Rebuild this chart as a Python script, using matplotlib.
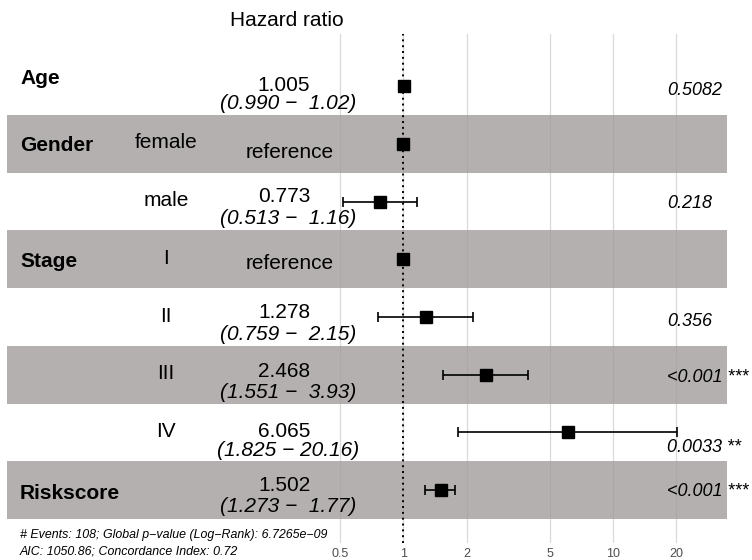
import matplotlib
matplotlib.use("Agg")
import matplotlib.pyplot as plt
import matplotlib.transforms as mtransforms
from matplotlib.ticker import NullLocator
import numpy as np

plt.rcParams['font.family'] = ['Liberation Sans', 'DejaVu Sans']

# cox model summary, one entry per row of the forest plot
var_names = ["Age", "Gender", "", "Stage", "", "", "", "Riskscore"]
levels = ["", "female", "male", "I", "II", "III", "IV", ""]
is_ref = [False, True, False, True, False, False, False, False]
hr = [1.005, 1.0, 0.773, 1.0, 1.278, 2.468, 6.065, 1.502]
ci_low = [0.990, np.nan, 0.513, np.nan, 0.759, 1.551, 1.825, 1.273]
ci_high = [1.02, np.nan, 1.16, np.nan, 2.15, 3.93, 20.16, 1.77]
hr_text = ["1.005", "reference", "0.773", "reference", "1.278", "2.468", "6.065", "1.502"]
ci_text = ["(0.990 \u2212  1.02)", "", "(0.513 \u2212  1.16)", "",
           "(0.759 \u2212  2.15)", "(1.551 \u2212  3.93)", "(1.825 \u2212 20.16)",
           "(1.273 \u2212  1.77)"]
p_text = ["0.5082", "", "0.218", "", "0.356", "<0.001 ***", "0.0033 **", "<0.001 ***"]

x_ticks = [0.5, 1, 2, 5, 10, 20]
x_tick_labels = ["0.5", "1", "2", "5", "10", "20"]

footer = ["# Events: 108; Global p\u2212value (Log\u2212Rank): 6.7265e\u221209",
          "AIC: 1050.86; Concordance Index: 0.72"]

# layout (pixels)
W, H = 752, 560
row0, row_px = 86.2, 57.7
x_one, decade_px = 403.5, 209.5
panel_top, panel_bot = 34, 543

var_dy = [-8, 2, 0, 2.4, 0, 0, 0, 3]
est_dy = [-1, 9, -5.6, 4, -4, -3, -0.7, -5]
ci_dy = [17, 0, 16.4, 0, 18, 18, 17.6, 16.7]
p_dy = [4, 0, 2.4, 0, 4.7, 3.3, 15, 1.7]

fig = plt.figure(figsize=(W / 100, H / 100), dpi=100)
ax = fig.add_axes([0, (H - panel_bot) / H, 1, (panel_bot - panel_top) / H])
ax.set_xscale('log')
ax.set_xlim(10 ** (-x_one / decade_px), 10 ** ((W - x_one) / decade_px))
ax.set_ylim((panel_bot - row0) / row_px, (panel_top - row0) / row_px)
for s in ax.spines.values():
    s.set_visible(False)
ax.set_yticks([])
ax.set_xticks(x_ticks)
ax.set_xticklabels(x_tick_labels)
ax.xaxis.set_minor_locator(NullLocator())
ax.tick_params(axis='x', length=0, pad=3.5, labelsize=9, colors='#4d4d4d')
ax.set_axisbelow(True)
ax.grid(axis='x', color='#d9d9d9', lw=0.9)

rows = np.arange(len(hr))

# shaded bands for every other row
for i in rows[1::2]:
    ax.axhspan(i - 0.5, i + 0.5, xmin=7 / W, xmax=727 / W,
               color='#a39c9c', alpha=0.8, lw=0, zorder=1)

ax.axvline(1, color='black', lw=1.4, ls=(0, (1, 2)), zorder=2)

hr_a = np.array(hr)
lo = np.array(ci_low)
hi = np.array(ci_high)
has_ci = ~np.isnan(lo)
ax.errorbar(hr_a[has_ci], rows[has_ci],
            xerr=[hr_a[has_ci] - lo[has_ci], hi[has_ci] - hr_a[has_ci]],
            fmt='none', ecolor='black', elinewidth=1.2, capsize=3.8,
            capthick=1.2, zorder=3)
ax.plot(hr_a, rows, 's', color='black', ms=9.2, zorder=4)

tr = mtransforms.blended_transform_factory(ax.transAxes, ax.transData)
for i in rows:
    if var_names[i]:
        ax.text(20 / W, i + var_dy[i] / row_px, var_names[i], transform=tr,
                ha='left', va='center', fontsize=15, fontweight='bold')
    if levels[i]:
        ax.text(166 / W, i - 1 / row_px, levels[i], transform=tr,
                ha='center', va='center', fontsize=15)
    ax.text(284 / W if not is_ref[i] else 290 / W, i + est_dy[i] / row_px,
            hr_text[i], transform=tr, ha='center', va='center', fontsize=15)
    if ci_text[i]:
        ax.text(288 / W, i + ci_dy[i] / row_px, ci_text[i], transform=tr,
                ha='center', va='center', fontsize=15, style='italic')
    if p_text[i]:
        ax.text(667 / W, i + p_dy[i] / row_px, p_text[i], transform=tr,
                ha='left', va='center', fontsize=13, style='italic')

fig.text(287 / W, 1 - 20 / H, "Hazard ratio", ha='center', va='center', fontsize=15)
fig.text(20 / W, 1 - 535 / H, footer[0], ha='left', va='center',
         fontsize=8.9, style='italic')
fig.text(20 / W, 1 - 552 / H, footer[1], ha='left', va='center',
         fontsize=8.9, style='italic')

fig.savefig("out.png", dpi=100)
